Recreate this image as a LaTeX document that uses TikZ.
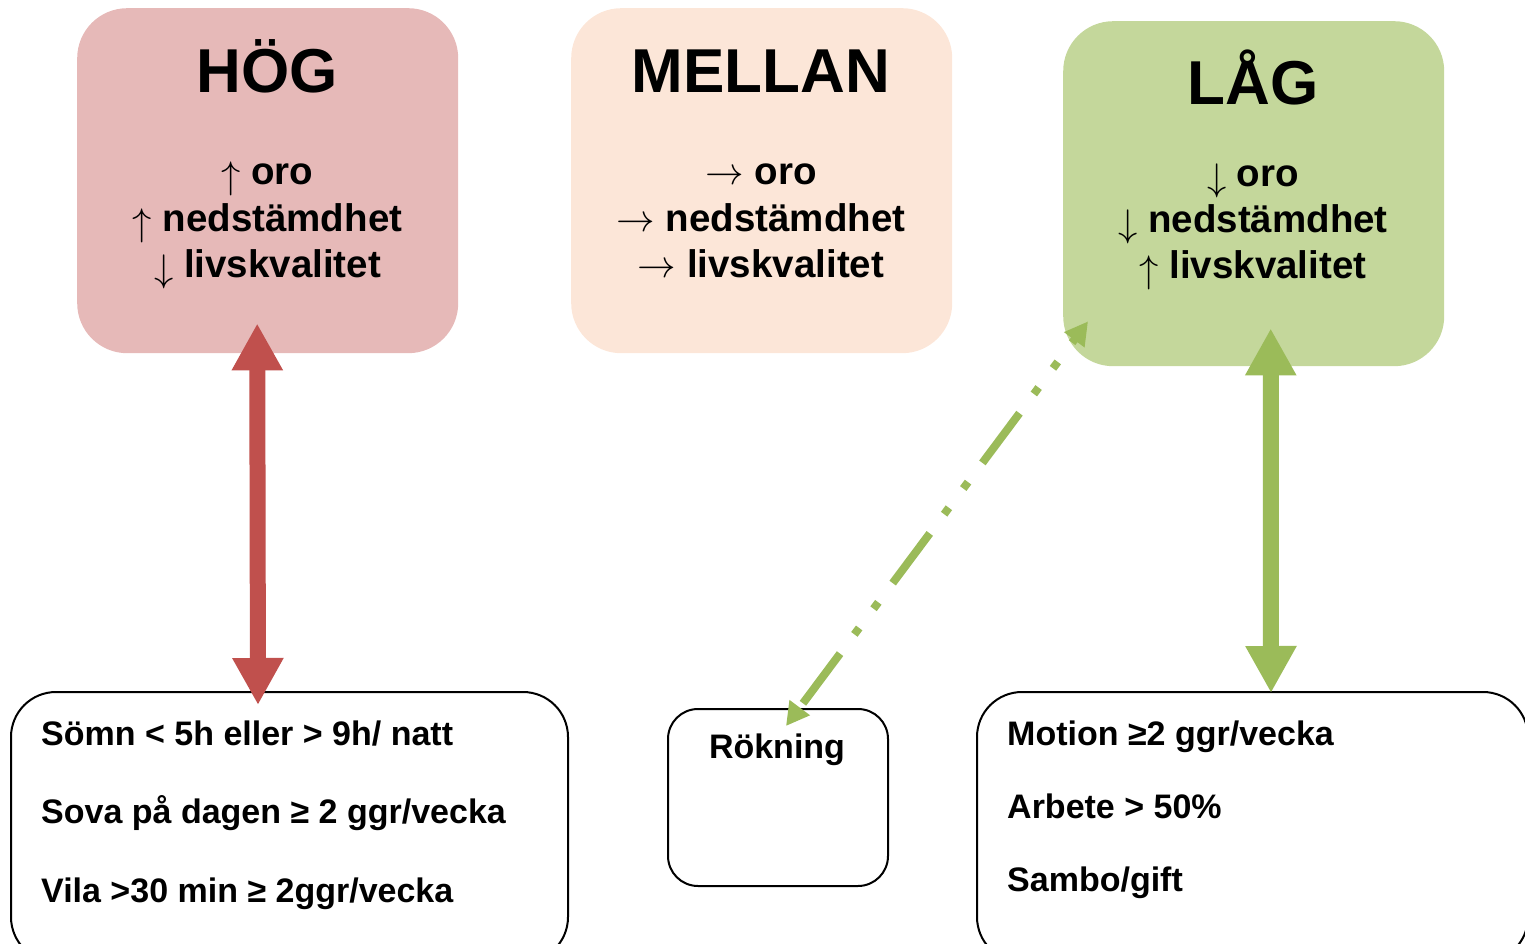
\RequirePackage{fix-cm}
\documentclass[tikz,border=0pt]{standalone}
\usepackage{fontspec}
\setmainfont{Liberation Sans}
\usetikzlibrary{arrows.meta,calc}

\definecolor{hogfill}{HTML}{E6B9B8}
\definecolor{mellanfill}{HTML}{FCE6D8}
\definecolor{lagfill}{HTML}{C4D79B}
\definecolor{redarrow}{HTML}{C0504D}
\definecolor{greenarrow}{HTML}{9BBB59}

% thin trend arrows in front of each outcome
\newcommand\trendup{\raisebox{-4pt}{$\uparrow$}}
\newcommand\trenddown{\raisebox{-4pt}{$\downarrow$}}
\newcommand\trendflat{$\rightarrow$}

\begin{document}
\begin{tikzpicture}[x=1pt,y=-1pt,
  levelbox/.style={rectangle, draw=none, rounded corners=50pt,
    minimum width=381pt, minimum height=345pt, inner sep=0pt, anchor=north west},
  factorbox/.style={rectangle, draw=black, line width=2pt, inner sep=0pt, anchor=north west},
  leveltitle/.style={font=\fontsize{62}{70}\selectfont\bfseries, anchor=base, inner sep=0pt},
  levelline/.style={font=\fontsize{38.5}{46}\selectfont\bfseries, anchor=base, inner sep=0pt},
  factorline/.style={font=\fontsize{34}{40}\selectfont\bfseries, anchor=base west, inner sep=0pt},
  bigarrow/.style={line width=16pt,
    {Triangle[length=47pt,width=48pt]}-{Triangle[length=47pt,width=48pt]}},
  weakarrow/.style={line width=8pt, greenarrow,
    dash pattern=on 62pt off 24pt on 8pt off 24pt on 8pt off 24pt, dash phase=57pt,
    {Triangle[length=23pt,width=24pt]}-{Triangle[length=23pt,width=24pt]}},
]
\clip (0,0) rectangle (1525,944);

% risk levels
\node[levelbox, fill=hogfill]    (hog)    at (77,8) {};
\node[levelbox, fill=mellanfill] (mellan) at (571,8) {};
\node[levelbox, fill=lagfill]    (lag)    at (1063,21) {};

\node[leveltitle] (hogtitle) at (267.5,93) {HÖG};
\node[levelline] (hog1) at (267.5,185) {\trendup{} oro};
\node[levelline] (hog2) at (267.5,231) {\trendup{} nedstämdhet};
\node[levelline] (hog3) at (267.5,277) {\trenddown{} livskvalitet};

\node[leveltitle] (mellantitle) at (761,93) {MELLAN};
\node[levelline] (mellan1) at (761,185) {\trendflat{} oro};
\node[levelline] (mellan2) at (761,231) {\trendflat{} nedstämdhet};
\node[levelline] (mellan3) at (761,277) {\trendflat{} livskvalitet};

\node[leveltitle] (lagtitle) at (1253,105) {LÅG};
\node[levelline] (lag1) at (1253,187) {\trenddown{} oro};
\node[levelline] (lag2) at (1253,233) {\trenddown{} nedstämdhet};
\node[levelline] (lag3) at (1253,278) {\trendup{} livskvalitet};

% factor boxes
\node[factorbox, rounded corners=45pt, minimum width=557pt, minimum height=270pt] (sleep) at (10,691) {};
\node[factorbox, rounded corners=30pt, minimum width=220pt, minimum height=177pt] (rok) at (667,708) {};
\node[factorbox, rounded corners=45pt, minimum width=551pt, minimum height=270pt] (life) at (976,691) {};

\node[factorline] (sleep1) at (41,745) {Sömn < 5h eller > 9h/ natt};
\node[factorline] (sleep2) at (41,823) {Sova på dagen ≥ 2 ggr/vecka};
\node[factorline] (sleep3) at (41,902) {Vila >30 min ≥ 2ggr/vecka};

\node[factorline, anchor=base] (rok1) at (777,758) {Rökning};

\node[factorline] (life1) at (1007,745) {Motion ≥2 ggr/vecka};
\node[factorline] (life2) at (1007,818) {Arbete > 50\%};
\node[factorline] (life3) at (1007,891) {Sambo/gift};

% associations
\draw[bigarrow, redarrow] ($(hog.south)+(-10.5,-30)$) -- ($(sleep.north)+(-31.5,14)$);
\draw[bigarrow, greenarrow] ($(lag.south)+(17,-38)$) -- ($(life.north)+(18.5,2)$);
\draw[weakarrow] ($(lag.south west)+(25,-45)$) -- ($(rok.north)+(8,18)$);
\end{tikzpicture}
\end{document}
